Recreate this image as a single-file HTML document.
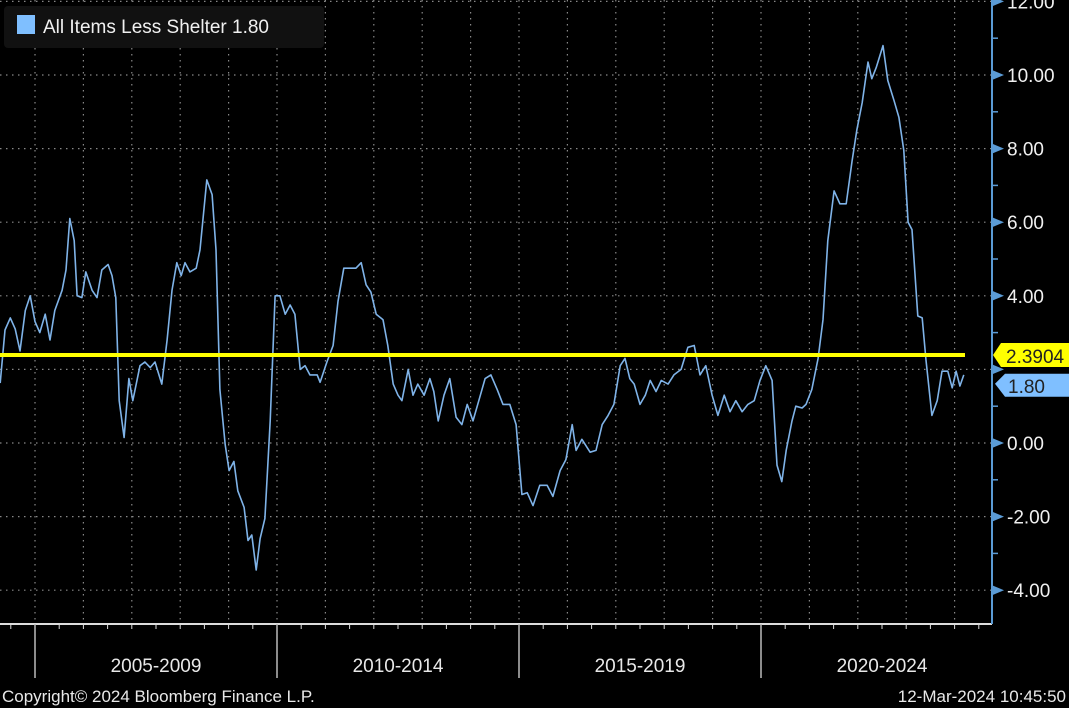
<!DOCTYPE html>
<html><head><meta charset="utf-8"><style>
html,body{margin:0;padding:0;background:#000;}
svg{display:block;font-family:"Liberation Sans",sans-serif;}
</style></head><body>
<svg id="chart" width="1069" height="708" viewBox="0 0 1069 708">
<rect x="0" y="0" width="1069" height="708" fill="#000"/>
<g id="grid"></g>
<g id="bottom"></g>
<g id="right"></g>
<g id="series"></g>
<g>
<rect x="4" y="6" width="320" height="42" rx="4" fill="#111"/>
<rect x="17" y="15" width="18" height="19" fill="#7fbfff"/>
<text x="43" y="33" fill="#f0f0f0" font-size="19">All Items Less Shelter 1.80</text>
</g>
<text x="2" y="702" fill="#e8e8e8" font-size="17">Copyright© 2024 Bloomberg Finance L.P.</text>
<text x="1066" y="702" fill="#e8e8e8" font-size="17" text-anchor="end">12-Mar-2024 10:45:50</text>
</svg>
<script>
const dates=[2004.28,2004.38,2004.49,2004.59,2004.69,2004.80,2004.90,2005.00,2005.10,2005.21,2005.31,2005.41,2005.56,2005.64,2005.72,2005.81,2005.87,2005.97,2006.05,2006.18,2006.28,2006.38,2006.51,2006.59,2006.67,2006.74,2006.84,2006.94,2007.02,2007.17,2007.27,2007.38,2007.48,2007.62,2007.73,2007.83,2007.93,2008.02,2008.10,2008.20,2008.33,2008.41,2008.55,2008.66,2008.74,2008.82,2008.93,2009.01,2009.11,2009.19,2009.32,2009.40,2009.48,2009.57,2009.65,2009.75,2009.86,2009.96,2010.06,2010.17,2010.27,2010.37,2010.48,2010.58,2010.68,2010.83,2010.89,2011.03,2011.16,2011.26,2011.38,2011.51,2011.63,2011.74,2011.84,2011.94,2012.05,2012.19,2012.29,2012.40,2012.50,2012.58,2012.71,2012.81,2012.91,2013.04,2013.16,2013.24,2013.33,2013.45,2013.57,2013.70,2013.82,2013.93,2014.05,2014.17,2014.30,2014.42,2014.55,2014.67,2014.81,2014.94,2015.06,2015.17,2015.29,2015.43,2015.58,2015.70,2015.85,2015.97,2016.10,2016.18,2016.30,2016.47,2016.59,2016.72,2016.84,2016.96,2017.09,2017.19,2017.29,2017.38,2017.50,2017.61,2017.71,2017.83,2017.94,2018.08,2018.20,2018.35,2018.49,2018.62,2018.74,2018.86,2018.99,2019.11,2019.24,2019.36,2019.48,2019.61,2019.73,2019.86,2019.98,2020.10,2020.23,2020.33,2020.43,2020.52,2020.64,2020.72,2020.85,2020.93,2021.05,2021.18,2021.28,2021.38,2021.51,2021.63,2021.76,2021.88,2021.98,2022.09,2022.21,2022.29,2022.38,2022.52,2022.62,2022.75,2022.85,2022.95,2023.04,2023.12,2023.24,2023.33,2023.41,2023.53,2023.64,2023.74,2023.86,2023.95,2024.03,2024.11,2024.19];
const values=[1.63,3.07,3.4,3.1,2.5,3.6,4.0,3.3,3.0,3.5,2.8,3.6,4.15,4.7,6.1,5.5,4.0,3.95,4.65,4.15,3.95,4.7,4.85,4.55,3.95,1.15,0.15,1.75,1.15,2.1,2.2,2.05,2.2,1.6,2.8,4.15,4.9,4.55,4.9,4.65,4.75,5.25,7.15,6.75,5.25,1.45,-0.05,-0.75,-0.5,-1.3,-1.75,-2.65,-2.5,-3.45,-2.6,-2.05,0.6,4.0,4.0,3.5,3.75,3.5,2.0,2.1,1.85,1.85,1.65,2.2,2.65,3.85,4.75,4.75,4.75,4.9,4.3,4.1,3.5,3.35,2.65,1.6,1.3,1.15,2.0,1.3,1.6,1.3,1.75,1.4,0.6,1.3,1.75,0.7,0.5,1.05,0.6,1.15,1.75,1.85,1.45,1.05,1.05,0.5,-1.4,-1.35,-1.7,-1.15,-1.15,-1.45,-0.75,-0.45,0.5,-0.2,0.1,-0.25,-0.2,0.5,0.75,1.05,2.1,2.3,1.75,1.6,1.05,1.3,1.7,1.4,1.7,1.6,1.85,2.0,2.6,2.65,1.85,2.1,1.3,0.75,1.3,0.85,1.15,0.85,1.05,1.15,1.7,2.1,1.7,-0.6,-1.05,-0.2,0.6,1.0,0.95,1.05,1.45,2.3,3.35,5.5,6.85,6.5,6.5,7.65,8.5,9.25,10.35,9.9,10.2,10.8,9.85,9.3,8.85,7.95,6.0,5.8,3.45,3.4,2.25,0.75,1.15,1.95,1.95,1.5,1.95,1.55,1.85];
const yTicks=[12,10,8,6,4,2,0,-2,-4];
const yTickLabels=["12.00","10.00","8.00","6.00","4.00","","0.00","-2.00","-4.00"];
const periodStarts=[2005,2010,2015,2020];
const periodLabels=["2005-2009","2010-2014","2015-2019","2020-2024"];
const refValue=2.3904;
const lastValue=1.80;

const NS="http://www.w3.org/2000/svg";
const X0=35,PX_YEAR=48.4,Y0=443,PX_UNIT=36.8,RIGHT=992,AXY=624;
const xs=t=>X0+(t-2005)*PX_YEAR;
const ys=v=>Y0-v*PX_UNIT;
function mk(tag,attrs,parent){const e=document.createElementNS(NS,tag);for(const k in attrs)e.setAttribute(k,attrs[k]);parent.appendChild(e);return e;}
const grid=document.getElementById('grid'),bottom=document.getElementById('bottom'),right=document.getElementById('right'),series=document.getElementById('series');

yTicks.forEach(v=>{
  const l=mk('line',{x1:0,x2:RIGHT,y1:ys(v),y2:ys(v),stroke:'#888','stroke-dasharray':'1.5,4.5','stroke-width':1.2},grid);
  
  
});
for(let y=2004;y<=2024;y++){
  const x=xs(y); if(x<0||x>RIGHT) continue;
  const l=mk('line',{x1:x,x2:x,y1:0,y2:AXY,stroke:'#888','stroke-dasharray':'1.5,4.5','stroke-width':1.2},grid);
  
  
}
const ax=mk('line',{x1:0,x2:RIGHT,y1:AXY,y2:AXY,stroke:'#ddd','stroke-width':2},bottom);


for(let h=2004.5;h<=2024.5;h+=0.5){
  const x=xs(h); if(x<0||x>RIGHT) continue;
  const t=mk('line',{x1:x,x2:x,y1:AXY,y2:AXY+5,stroke:'#ddd','stroke-width':1},bottom);
  
  
}
periodStarts.forEach((p,i)=>{
  const x=xs(p);
  const d=mk('line',{x1:x,x2:x,y1:AXY,y2:678,stroke:'#bbb','stroke-width':1.5},bottom);
  
  
  const t=mk('text',{x:xs(p+2.5),y:672,fill:'#e8e8e8','font-size':19,'text-anchor':'middle'},bottom);
  t.textContent=periodLabels[i];
  
  
});
const ra=mk('line',{x1:RIGHT,x2:RIGHT,y1:0,y2:AXY,stroke:'#5b9bd5','stroke-width':2},right);


for(let v=-4;v<=12;v++){
  const y=ys(v);
  if(v%2===0){
    const tr=mk('polygon',{points:`${RIGHT},${y-5} ${RIGHT+12},${y} ${RIGHT},${y+5}`,fill:'#5b9bd5'},right);
    
    
  }else{
    const t=mk('line',{x1:RIGHT,x2:RIGHT+6,y1:y,y2:y,stroke:'#5b9bd5','stroke-width':1.5},right);
    
    
  }
}
yTicks.forEach((v,i)=>{
  if(!yTickLabels[i]) return;
  const t=mk('text',{x:1007,y:ys(v)+7,fill:'#f0f0f0','font-size':19},right);
  t.textContent=yTickLabels[i];
  
  
});
const pts=dates.map((d,i)=>xs(d).toFixed(1)+','+ys(values[i]).toFixed(1)).join(' ');
const pl=mk('polyline',{points:pts,fill:'none',stroke:'#7fb3e8','stroke-width':1.6,'stroke-linejoin':'round'},series);


const ry=ys(refValue);
const rl=mk('line',{x1:0,x2:965,y1:ry,y2:ry,stroke:'#ffff00','stroke-width':4},series);


const ty=ys(refValue);
const tg=mk('polygon',{points:`993,${ty} 1001,${ty-12} 1069,${ty-12} 1069,${ty+12} 1001,${ty+12}`,fill:'#ffff00'},right);


const tt=mk('text',{x:1006,y:ty+8,fill:'#222','font-size':19},right);
tt.textContent=refValue.toFixed(4);


const ly=ys(lastValue)+11;
const bg=mk('polygon',{points:`995,${ly-4} 1005,${ly-14} 1069,${ly-14} 1069,${ly+9} 1005,${ly+9}`,fill:'#7fbfff'},right);


const bt=mk('text',{x:1008,y:ly+5,fill:'#222','font-size':19},right);
bt.textContent=lastValue.toFixed(2);


</script>
</body></html>
